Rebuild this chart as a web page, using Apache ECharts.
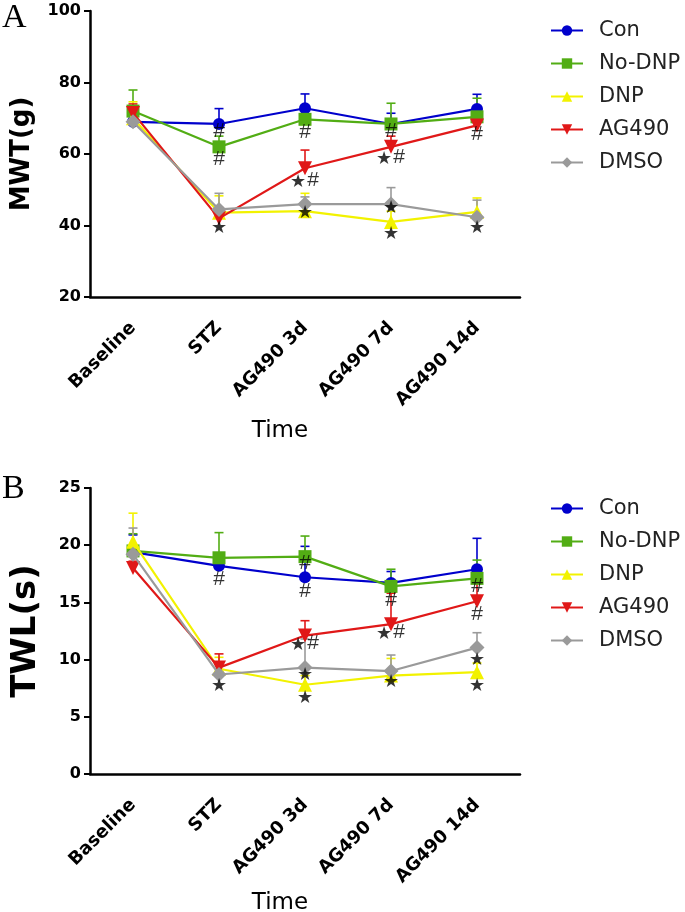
<!DOCTYPE html>
<html>
<head>
<meta charset="utf-8">
<script src="https://cdn.jsdelivr.net/npm/echarts@6/dist/echarts.min.js"></script>
<style>html,body{margin:0;padding:0;background:#fff;}#c{width:685px;height:912px;}</style>
</head>
<body>
<div id="c"></div>
<script>
// ---------- data ----------
const categories = ['Baseline', 'STZ', 'AG490 3d', 'AG490 7d', 'AG490 14d'];
const groups = ['Con', 'No-DNP', 'DNP', 'AG490', 'DMSO'];
const yTicksA = [20, 40, 60, 80, 100];
const yTicksB = [0, 5, 10, 15, 20, 25];

// Panel A: MWT(g) means and SEM (upper bars)
const mwtCon    = [69.0, 68.4, 72.8, 68.4, 72.6];
const mwtConErr = [3.0, 4.3, 4.0, 3.0, 4.1];
const mwtNoDNP    = [72.0, 62.0, 69.7, 68.4, 70.4];
const mwtNoDNPErr = [5.9, 3.0, 3.5, 5.8, 5.2];
const mwtDNP    = [70.0, 43.6, 44.0, 41.0, 43.8];
const mwtDNPErr = [4.6, 4.7, 5.0, 3.0, 3.9];
const mwtAG490    = [71.5, 42.0, 56.0, 62.0, 68.0];
const mwtAG490Err = [2.5, 3.0, 5.1, 3.0, 3.5];
const mwtDMSO    = [69.0, 44.5, 46.0, 46.0, 42.3];
const mwtDMSOErr = [3.5, 4.5, 2.0, 4.6, 4.8];

// Panel B: TWL(s)
const twlCon    = [19.4, 18.2, 17.2, 16.7, 17.9];
const twlConErr = [1.5, 1.0, 2.7, 1.0, 2.7];
const twlNoDNP    = [19.5, 18.9, 19.0, 16.4, 17.1];
const twlNoDNPErr = [1.5, 2.2, 1.8, 1.5, 1.6];
const twlDNP    = [20.3, 9.2, 7.8, 8.6, 8.9];
const twlDNPErr = [2.5, 1.0, 0.8, 1.5, 0.8];
const twlAG490    = [18.0, 9.3, 12.1, 13.1, 15.1];
const twlAG490Err = [0.6, 1.2, 1.3, 2.7, 2.6];
const twlDMSO    = [19.2, 8.7, 9.3, 9.0, 11.05];
const twlDMSOErr = [2.3, 1.0, 2.5, 1.4, 1.3];

// significance marks: [category index, value]
const mwtHash = [[1, 66.4], [1, 58.6], [2, 66.2], [3, 66.4], [4, 65.6]];
const mwtStar = [[1, 39.3], [2, 43.5], [3, 44.9], [3, 37.6], [4, 39.3]];
const mwtStarHash = [[2, 52.7], [3, 59.2]];
const twlHash = [[1, 17.0], [2, 18.4], [2, 15.95], [3, 15.2], [4, 16.4], [4, 14.0]];
const twlStar = [[1, 7.7], [2, 8.6], [2, 6.6], [3, 8.0], [4, 9.9], [4, 7.7]];
const twlStarHash = [[2, 11.4], [3, 12.4]];

// ---------- styles ----------
const colors = ['#0000cc', '#52ad14', '#f2f200', '#e01818', '#9a9a9a'];
const symbols = ['circle', 'rect', 'triangle', 'triangle', 'diamond'];
const symbolSizes = [12, 13, 14, 14, 15];
const symbolRotates = [0, 0, 0, 180, 0];

const panelA = { means: [mwtCon, mwtNoDNP, mwtDNP, mwtAG490, mwtDMSO],
                 errs: [mwtConErr, mwtNoDNPErr, mwtDNPErr, mwtAG490Err, mwtDMSOErr] };
const panelB = { means: [twlCon, twlNoDNP, twlDNP, twlAG490, twlDMSO],
                 errs: [twlConErr, twlNoDNPErr, twlDNPErr, twlAG490Err, twlDMSOErr] };

const series = [];
[panelA, panelB].forEach((p, gi) => {
  groups.forEach((g, i) => {
    series.push({
      name: g, type: 'line', xAxisIndex: gi, yAxisIndex: gi,
      data: p.means[i], symbol: symbols[i], symbolSize: symbolSizes[i],
      symbolRotate: symbolRotates[i], showAllSymbol: true,
      lineStyle: { color: colors[i], width: 2.2 },
      itemStyle: { color: colors[i] }, z: 3 + i * 0.1, animation: false
    });
  });
});
[panelA, panelB].forEach((p, gi) => {
  groups.forEach((g, i) => {
    series.push({
      name: g, type: 'custom', xAxisIndex: gi, yAxisIndex: gi,
      data: p.means[i].map((v, k) => [k, v, p.errs[i][k]]),
      encode: { x: 0, y: 1 }, z: 2, silent: true, animation: false,
      renderItem: function (params, api) {
        const x = api.value(0), v = api.value(1), e = api.value(2);
        const p0 = api.coord([x, v]);
        const p1 = api.coord([x, v + e]);
        const st = { stroke: colors[i], lineWidth: 1.6 };
        return { type: 'group', children: [
          { type: 'line', shape: { x1: p0[0], y1: p0[1], x2: p1[0], y2: p1[1] }, style: st },
          { type: 'line', shape: { x1: p1[0] - 4.5, y1: p1[1], x2: p1[0] + 4.5, y2: p1[1] }, style: st }
        ]};
      }
    });
  });
});

function markSeries(data, gi, text, offset, font) {
  return {
    type: 'scatter', xAxisIndex: gi, yAxisIndex: gi, data: data,
    symbol: 'circle', symbolSize: 1, itemStyle: { color: 'rgba(0,0,0,0)' },
    silent: true, z: 10, animation: false,
    label: { show: true, position: 'inside', formatter: text, offset: offset,
             color: '#000', fontFamily: font.family, fontSize: font.size, fontWeight: font.weight }
  };
}
const hashFont = { family: 'Liberation Sans', size: 21, weight: 'normal' };
const starFont = { family: 'DejaVu Sans', size: 18, weight: 'bold' };
[[mwtHash, mwtStar, mwtStarHash], [twlHash, twlStar, twlStarHash]].forEach((m, gi) => {
  series.push(markSeries(m[0], gi, '#', [0, 0], hashFont));
  series.push(markSeries(m[1], gi, '★', [0, 0], starFont));
  series.push(markSeries(m[2], gi, '★', [-7, 2], starFont));
  series.push(markSeries(m[2], gi, '#', [8, 0], hashFont));
});

function xAxis(gi, nameGap) {
  return {
    type: 'category', gridIndex: gi, data: categories, boundaryGap: true,
    axisLine: { lineStyle: { color: '#000', width: 2.5 } },
    axisTick: { alignWithLabel: true, length: 7, lineStyle: { color: '#000', width: 2 } },
    axisLabel: { rotate: 45, margin: 28, color: '#000', fontFamily: 'DejaVu Sans',
                 fontWeight: 'bold', fontSize: 18, interval: 0 },
    name: 'Time', nameLocation: 'middle', nameGap: nameGap,
    nameTextStyle: { color: '#000', fontFamily: 'DejaVu Sans', fontSize: 23, padding: [0, 50, 0, 0] },
    splitLine: { show: false }
  };
}
function yAxis(gi, ticks, name, nameSize, nameGap) {
  return {
    type: 'value', gridIndex: gi, min: ticks[0], max: ticks[ticks.length - 1],
    interval: ticks[1] - ticks[0],
    axisLine: { show: true, lineStyle: { color: '#000', width: 2.5 } },
    axisTick: { show: true, length: 6, lineStyle: { color: '#000', width: 2 } },
    axisLabel: { margin: 9, color: '#000', fontFamily: 'DejaVu Sans', fontWeight: 'bold', fontSize: 16 },
    splitLine: { show: false },
    name: name, nameLocation: 'middle', nameGap: nameGap, nameRotate: 90,
    nameTextStyle: { color: '#000', fontFamily: 'DejaVu Sans', fontWeight: 'bold', fontSize: nameSize }
  };
}
function legend(top) {
  return {
    data: groups, left: 550, top: top, orient: 'vertical', padding: 0,
    itemWidth: 32, itemHeight: 13, itemGap: 12,
    textStyle: { color: '#222', fontFamily: 'DejaVu Sans', fontSize: 21, padding: [0, 0, 0, 11] },
    selectedMode: false
  };
}

const chart = echarts.init(document.getElementById('c'), null, { renderer: 'canvas' });
chart.setOption({
  animation: false,
  backgroundColor: '#fff',
  grid: [
    { left: 90, top: 11, width: 430, height: 286, outerBoundsMode: 'none', containLabel: false },
    { left: 90, top: 488, width: 430, height: 286, outerBoundsMode: 'none', containLabel: false }
  ],
  xAxis: [xAxis(0, 123), xAxis(1, 118)],
  yAxis: [yAxis(0, yTicksA, 'MWT(g)', 26, 55), yAxis(1, yTicksB, 'TWL(s)', 34, 47)],
  legend: [legend(20), legend(498)],
  graphic: [
    { type: 'text', left: 2, top: 1, style: { text: 'A', fontFamily: 'Liberation Serif', fontSize: 34, fill: '#000' } },
    { type: 'text', left: 2, top: 472, style: { text: 'B', fontFamily: 'Liberation Serif', fontSize: 34, fill: '#000' } }
  ],
  series: series
});
</script>
</body>
</html>
